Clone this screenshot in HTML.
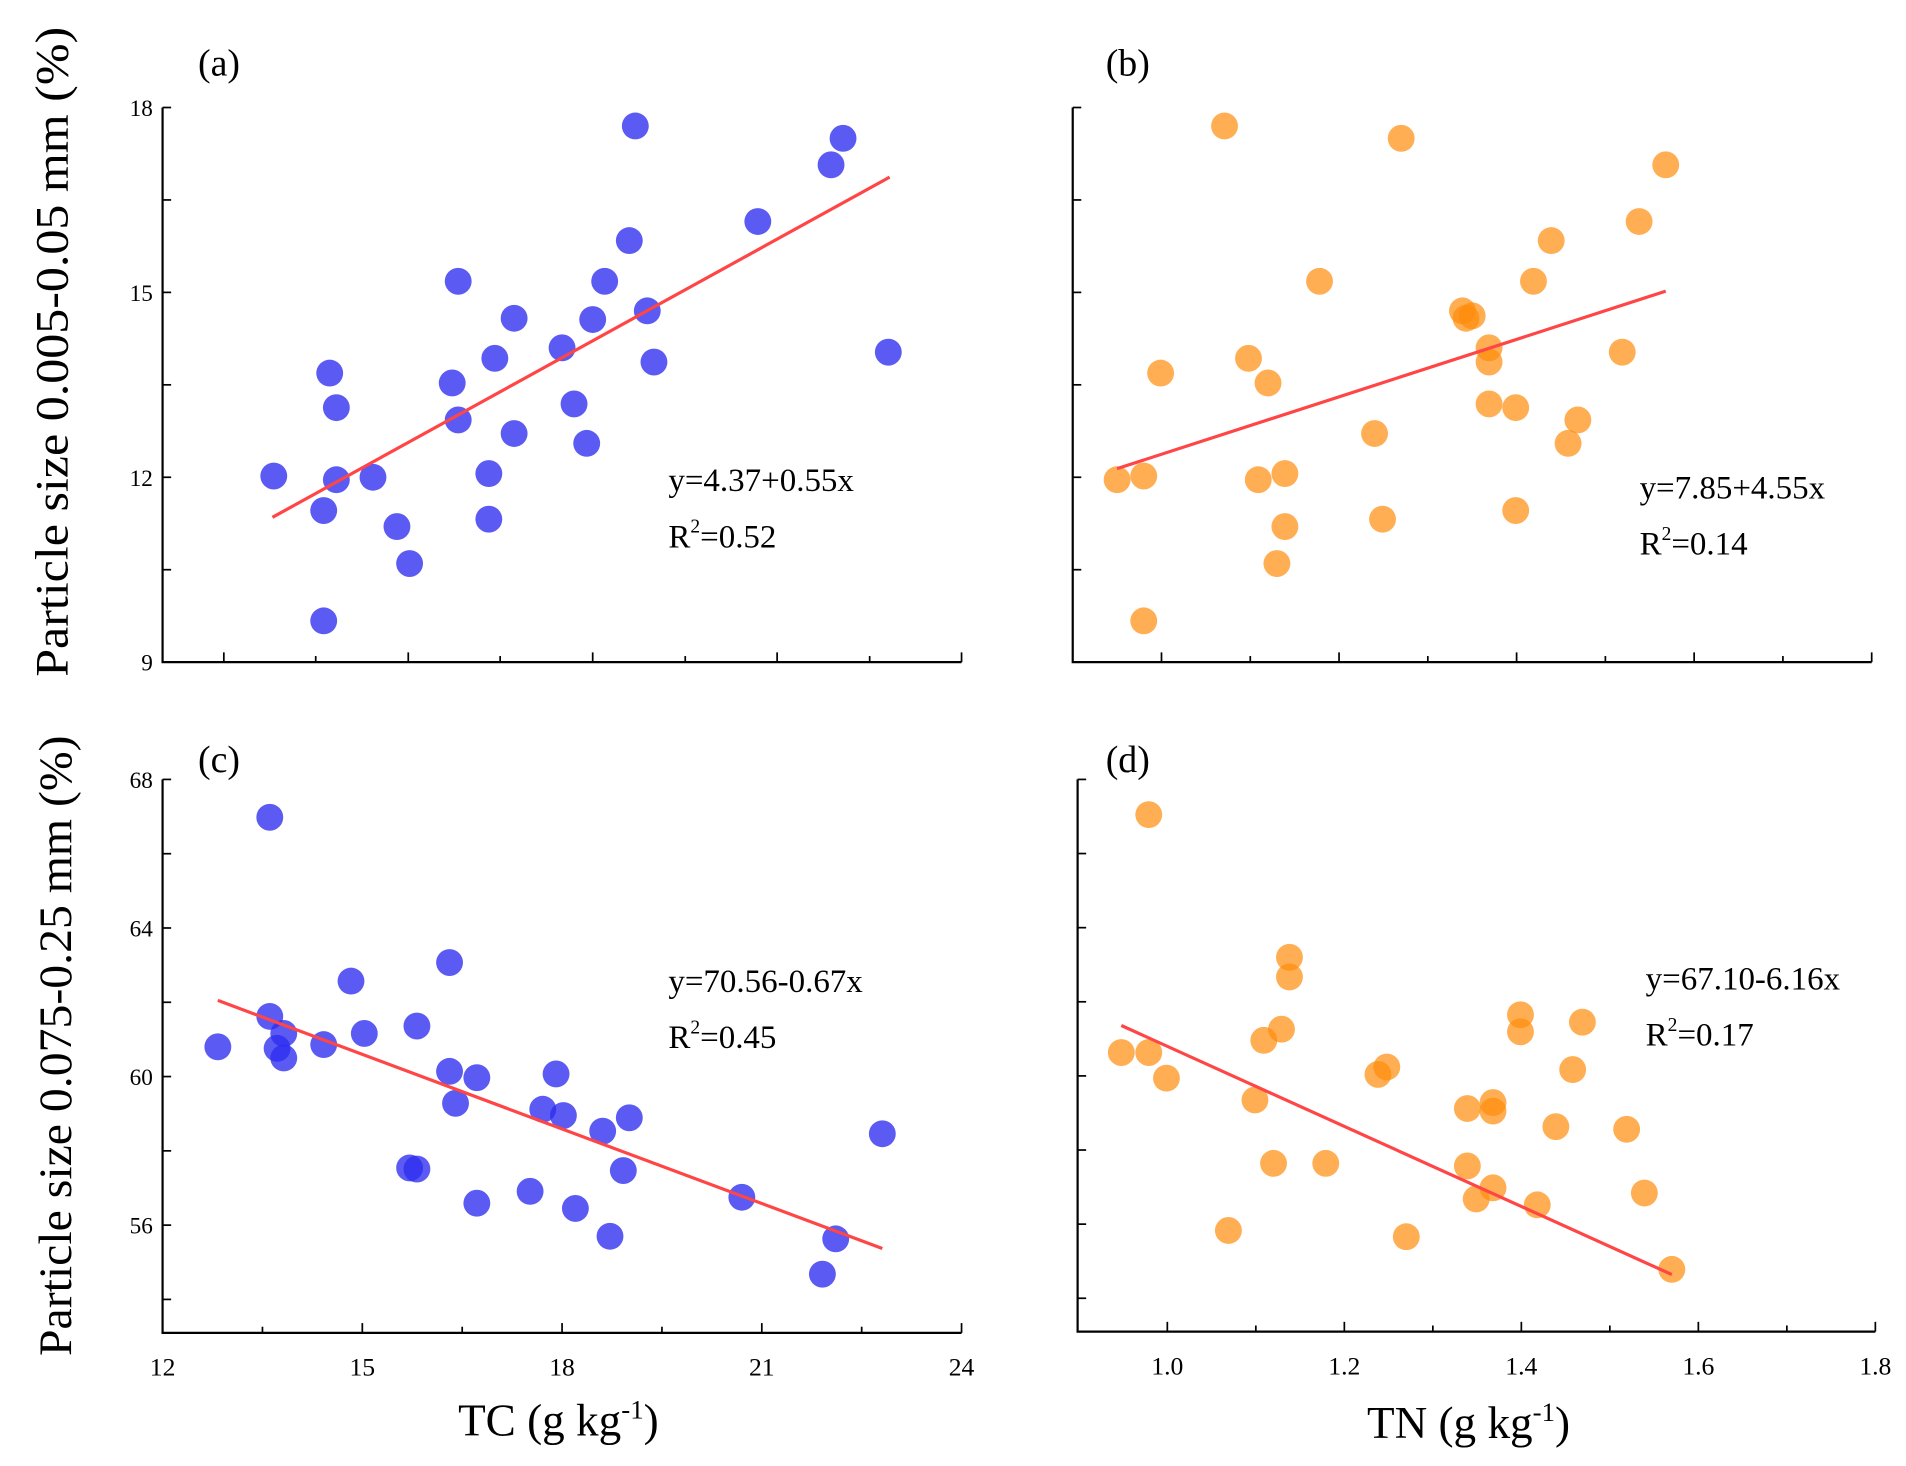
<!DOCTYPE html>
<html><head><meta charset="utf-8"><style>
html,body{margin:0;padding:0;background:#fff;}
svg{display:block;}
text{font-family:"Liberation Serif",serif;fill:#000;}
</style></head><body>
<svg id="chart" width="1906" height="1466" viewBox="0 0 1560 1200" xmlns="http://www.w3.org/2000/svg"></svg>
<script>
// Panel (a): TC vs particle 0.005-0.05
const tcA=[13.67,14.42,14.42,14.51,14.61,14.61,15.16,15.52,15.71,16.35,16.44,16.44,16.90,16.90,16.99,17.28,17.28,18.00,18.18,18.37,18.46,18.64,19.01,19.10,19.28,19.38,20.94,22.04,22.22,22.90];
const fineA=[12.02,11.46,9.67,13.69,13.13,11.96,12.0,11.2,10.6,13.53,12.93,15.18,12.06,11.32,13.93,14.58,12.71,14.1,13.19,12.55,14.56,15.18,15.84,17.7,14.7,13.87,16.15,17.07,17.5,14.03];
const fitAX=[13.65,22.92], fitAY=[11.35,16.87];
// Panel (b): TN vs particle 0.005-0.05
const tnB=[0.950,0.980,0.980,0.999,1.071,1.098,1.109,1.120,1.139,1.139,1.130,1.178,1.240,1.249,1.270,1.339,1.343,1.350,1.369,1.369,1.369,1.399,1.399,1.419,1.439,1.458,1.469,1.519,1.538,1.568];
const fineB=[11.96,12.02,9.67,13.69,17.7,13.93,11.96,13.53,12.06,11.2,10.6,15.18,12.71,11.32,17.5,14.7,14.58,14.62,14.1,13.87,13.19,13.13,11.46,15.18,15.84,12.55,12.93,14.03,16.15,17.07];
const fitBX=[0.95,1.568], fitBY=[12.14,15.02];
// Panel (c): TC vs particle 0.075-0.25
const tcC=[12.83,13.61,13.61,13.72,13.82,13.82,14.42,14.83,15.03,15.71,15.82,15.82,16.31,16.31,16.40,16.72,16.72,17.52,17.71,17.91,18.02,18.20,18.61,18.72,18.92,19.01,20.70,21.91,22.11,22.81];
const coarseC=[60.80,66.98,61.62,60.76,61.16,60.50,60.86,62.57,61.16,57.54,57.51,61.36,63.07,60.14,59.28,59.97,56.59,56.91,59.12,60.07,58.95,56.45,58.53,55.70,57.47,58.89,56.75,54.68,55.63,58.46];
const fitCX=[12.83,22.81], fitCY=[62.05,55.37];
// Panel (d): TN vs particle 0.075-0.25
const tnD=[0.948,0.979,0.979,0.999,1.069,1.099,1.109,1.120,1.129,1.138,1.138,1.179,1.238,1.248,1.270,1.339,1.339,1.349,1.368,1.368,1.368,1.399,1.399,1.418,1.439,1.458,1.469,1.519,1.539,1.570];
const coarseD=[60.63,60.63,67.05,59.94,55.83,59.35,60.96,57.64,61.26,63.20,62.67,57.64,60.04,60.24,55.66,59.12,57.57,56.68,59.28,59.05,56.98,61.65,61.19,56.52,58.63,60.17,61.45,58.56,56.84,54.78];
const fitDX=[0.948,1.570], fitDY=[61.36,54.64];
const tcTicks=["12","15","18","21","24"], tcTickVals=[12,15,18,21,24];
const tnTicks=["1.0","1.2","1.4","1.6","1.8"], tnTickVals=[1.0,1.2,1.4,1.6,1.8];
const fineTicks=["9","12","15","18"], fineTickVals=[9,12,15,18];
const coarseTicks=["56","60","64","68"], coarseTickVals=[56,60,64,68];

const NS="http://www.w3.org/2000/svg";
const svg=document.getElementById('chart');
function mk(tag,attrs,parent){const e=document.createElementNS(NS,tag);for(const k in attrs)e.setAttribute(k,attrs[k]);(parent||svg).appendChild(e);return e;}
function lin(d0,d1,r0,r1){return v=>r0+(v-d0)*(r1-r0)/(d1-d0);}

const panels=[
 {id:'a',L:133,R:787,T:88,B:542,x:lin(12,24,133,787),y:lin(9,18,542,88),xs:tcA,ys:fineA,fx:fitAX,fy:fitAY,col:'rgba(45,45,240,0.78)',
  xt:[12.92,14.3,15.69,17.07,18.46,19.85,21.23,22.62,24],xl:null,yt:[9,10.5,12,13.5,15,16.5,18],yl:true,yt2:fineTickVals,ylab:fineTicks,
  eq:['y=4.37+0.55x','0.52'],ex:547,ey:402,lab:'(a)',lx:162,ly:62},
 {id:'b',L:878,R:1532,T:88,B:542,x:lin(0.9,1.8,878,1532),y:lin(9,18,542,88),xs:tnB,ys:fineB,fx:fitBX,fy:fitBY,col:'rgba(255,140,10,0.7)',
  xt:[1.0,1.1,1.2,1.3,1.4,1.5,1.6,1.7,1.8],xl:null,yt:[10.5,12,13.5,15,16.5,18],yl:false,
  eq:['y=7.85+4.55x','0.14'],ex:1342,ey:408,lab:'(b)',lx:905,ly:62},
 {id:'c',L:133,R:787,T:638,B:1091,x:lin(12,24,133,787),y:lin(53.1,68,1091,638),xs:tcC,ys:coarseC,fx:fitCX,fy:fitCY,col:'rgba(45,45,240,0.78)',
  xt:[12,13.5,15,16.5,18,19.5,21,22.5,24],xl:true,xtv:tcTickVals,xlab:tcTicks,yt:[54,56,58,60,62,64,66,68],yl:true,yt2:coarseTickVals,ylab:coarseTicks,
  eq:['y=70.56-0.67x','0.45'],ex:547,ey:812,lab:'(c)',lx:162,ly:632},
 {id:'d',L:882,R:1535,T:638,B:1090,x:lin(0.9,1.8,883,1535),y:lin(53.1,68,1090,638),xs:tnD,ys:coarseD,fx:fitDX,fy:fitDY,col:'rgba(255,140,10,0.7)',
  xt:[1.0,1.1,1.2,1.3,1.4,1.5,1.6,1.7,1.8],xl:true,xtv:tnTickVals,xlab:tnTicks,yt:[54,56,58,60,62,64,66,68],yl:false,
  eq:['y=67.10-6.16x','0.17'],ex:1347,ey:810,lab:'(d)',lx:905,ly:632}
];

panels.forEach(p=>{
 const g=mk('g',{});
 
 
 p.xs.forEach((v,i)=>{
  const c=mk('circle',{cx:p.x(v),cy:p.y(p.ys[i]),r:11,fill:p.col},g);
  
  
 });
 const fl=mk('line',{x1:p.x(p.fx[0]),y1:p.y(p.fy[0]),x2:p.x(p.fx[1]),y2:p.y(p.fy[1]),stroke:'#ff4545','stroke-width':2.6},g);
 
 
 const ax=mk('path',{d:`M${p.L},${p.T} V${p.B} H${p.R}`,fill:'none',stroke:'#000','stroke-width':1.8},g);
 
 
 p.xt.forEach((v,i)=>{mk('line',{x1:p.x(v),y1:p.B,x2:p.x(v),y2:p.B-(i%2===0?8:5),stroke:'#000','stroke-width':1.4},g);});
 p.yt.forEach(v=>{mk('line',{x1:p.L,y1:p.y(v),x2:p.L+7,y2:p.y(v),stroke:'#000','stroke-width':1.4},g);});
 if(p.yl){p.yt2.forEach((v,i)=>{const t=mk('text',{x:p.L-8,y:p.y(v)+7,'text-anchor':'end','font-size':19},g);t.textContent=p.ylab[i];
  });}
 if(p.xl){p.xtv.forEach((v,i)=>{const t=mk('text',{x:p.x(v),y:p.B+35,'text-anchor':'middle','font-size':21},g);t.textContent=p.xlab[i];
  });}
 const eq=mk('text',{x:p.ex,y:p.ey,'font-size':27},g);eq.textContent=p.eq[0];
 
 const r2=mk('text',{x:p.ex,y:p.ey+46,'font-size':27},g);
 
 r2.innerHTML='R<tspan dy="-12" font-size="16">2</tspan><tspan dy="12">='+p.eq[1]+'</tspan>';
 const lb=mk('text',{x:p.lx,y:p.ly,'font-size':31},g);lb.textContent=p.lab;
 
});
let t=mk('text',{x:0,y:0,'font-size':38,'text-anchor':'middle',textLength:532,lengthAdjust:'spacingAndGlyphs',transform:'translate(55,288) rotate(-90)'});
t.textContent='Particle size 0.005-0.05 mm (%)';

t=mk('text',{x:0,y:0,'font-size':38,'text-anchor':'middle',textLength:508,lengthAdjust:'spacingAndGlyphs',transform:'translate(58,856) rotate(-90)'});
t.textContent='Particle size 0.075-0.25 mm (%)';

t=mk('text',{x:457,y:1175,'font-size':37,'text-anchor':'middle'});
t.innerHTML='TC (g kg<tspan dy="-14" font-size="22">-1</tspan><tspan dy="14">)</tspan>';

t=mk('text',{x:1202,y:1177,'font-size':37,'text-anchor':'middle'});
t.innerHTML='TN (g kg<tspan dy="-14" font-size="22">-1</tspan><tspan dy="14">)</tspan>';

</script>
</body></html>
